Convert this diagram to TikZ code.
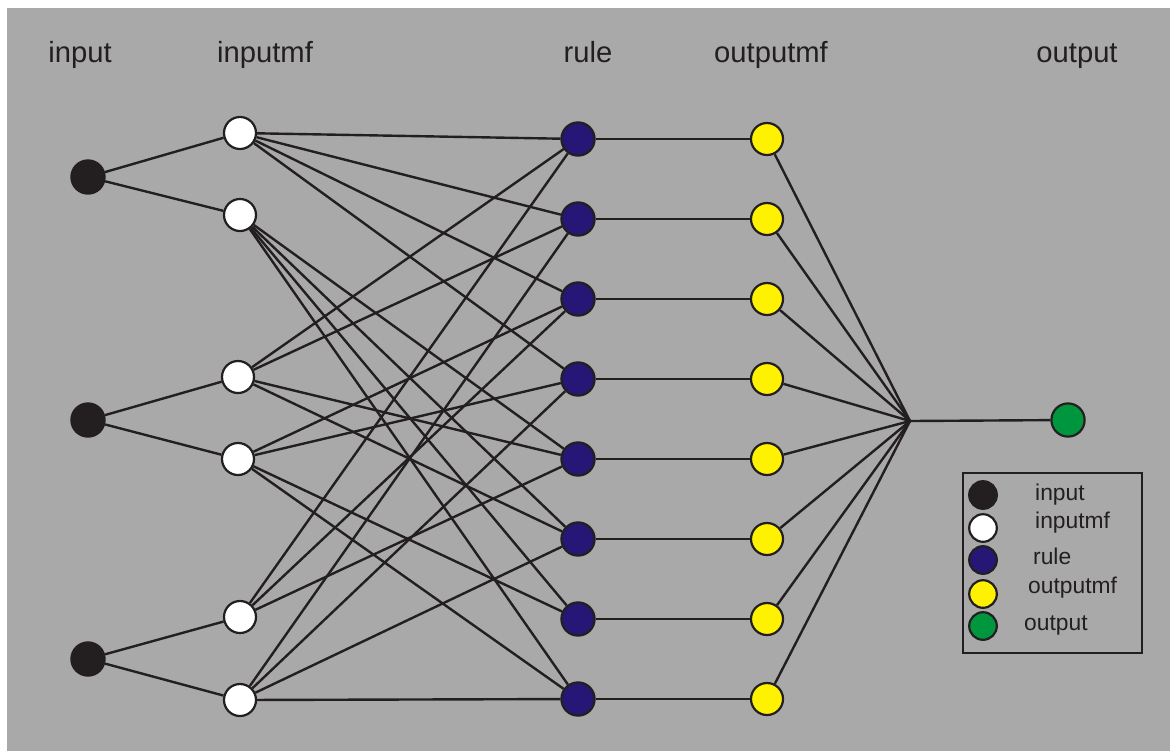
\documentclass[tikz,border=0pt]{standalone}
\usepackage{fontspec}
\setmainfont{Liberation Sans}
\usetikzlibrary{positioning}

\definecolor{bggray}{RGB}{169,169,169}
\definecolor{ink}{RGB}{35,31,32}
\definecolor{rulecol}{RGB}{38,22,118}
\definecolor{mfyellow}{RGB}{255,242,0}
\definecolor{outgreen}{RGB}{0,150,62}

\begin{document}
\begin{tikzpicture}[x=0.5pt,y=-0.5pt,node distance=40pt,
         line width=1.2pt,draw=ink,
         main node/.style={circle,draw=ink,line width=1.1pt,inner sep=0pt,minimum size=16.6pt},
         in node/.style={main node,fill=ink},
         mf node/.style={main node,fill=white,minimum size=16pt},
         rule node/.style={main node,fill=rulecol},
         omf node/.style={main node,fill=mfyellow,minimum size=16pt},
         out node/.style={main node,fill=outgreen},
         title/.style={anchor=base,text=ink,font=\fontsize{14.6}{17}\selectfont},
         key/.style={anchor=west,inner sep=0pt,text=ink,font=\fontsize{11.4}{13}\selectfont}] % sizes given in px of the 1170x751 sheet

       \useasboundingbox (0,0) rectangle (1170,751);
       \fill[white] (0,0) rectangle (1170,751);
       \fill[bggray] (7,8) rectangle (1170,751);

       % layer titles
       \node[title] (t1) at (80,62) {input};
       \node[title] (t2) at (265,62) {inputmf};
       \node[title] (t3) at (588,62) {rule};
       \node[title] (t4) at (771,62) {outputmf};
       \node[title] (t5) at (1077,62) {output};

       \node[in node] (i1) at (88,177) {};
       \node[in node] (i2) at (88,420) {};
       \node[in node] (i3) at (88,659) {};

       \node[mf node] (m1) at (240,133) {};
       \node[mf node] (m2) at (240,215) {};
       \node[mf node] (m3) at (238,377) {};
       \node[mf node] (m4) at (238,459) {};
       \node[mf node] (m5) at (240,617) {};
       \node[mf node] (m6) at (240,700) {};

       \node[rule node] (r1) at (578,139) {};
       \node[rule node] (r2) [below of=r1] {};
       \node[rule node] (r3) [below of=r2] {};
       \node[rule node] (r4) [below of=r3] {};
       \node[rule node] (r5) [below of=r4] {};
       \node[rule node] (r6) [below of=r5] {};
       \node[rule node] (r7) [below of=r6] {};
       \node[rule node] (r8) [below of=r7] {};

       \foreach \k in {1,...,8} {
        \node[omf node] (o\k) [right of=r\k, node distance=94.5pt] {};}

       \coordinate (sum) at (910,421);
       \node[out node] (out) at (1068,420) {};

       \foreach \s/\t in {i1/m1, i1/m2, i2/m3, i2/m4, i3/m5, i3/m6,
                          m1/r1, m1/r2, m1/r3, m1/r4, m2/r5, m2/r6, m2/r7, m2/r8,
                          m3/r1, m3/r2, m3/r5, m3/r6, m4/r3, m4/r4, m4/r7, m4/r8,
                          m5/r1, m5/r3, m5/r5, m6/r2, m6/r4, m6/r6, m6/r8} {
        \path[draw=ink] (\s) edge (\t);}
       \foreach \k in {1,...,8} {
        \path[draw=ink] (r\k) edge (o\k) (o\k) edge (sum);}
       \draw[ink] (sum) -- (out);

       % legend
       \draw[ink] (963,473) rectangle (1142,653);
       \node[in node,minimum size=13.8pt] (k1) at (983,495) {};
       \node[mf node,minimum size=13.8pt] (k2) at (983,528) {};
       \node[rule node,minimum size=13.8pt] (k3) at (983,560) {};
       \node[omf node,minimum size=13.8pt] (k4) at (983,594) {};
       \node[out node,minimum size=13.8pt] (k5) at (983,626) {};
       \node[key] (l1) at (1034,495) {input};
       \node[key] (l2) at (1034,523) {inputmf};
       \node[key] (l3) at (1032,556) {rule};
       \node[key] (l4) at (1027,588) {outputmf};
       \node[key] (l5) at (1023,625) {output};
      \end{tikzpicture}
\end{document}
